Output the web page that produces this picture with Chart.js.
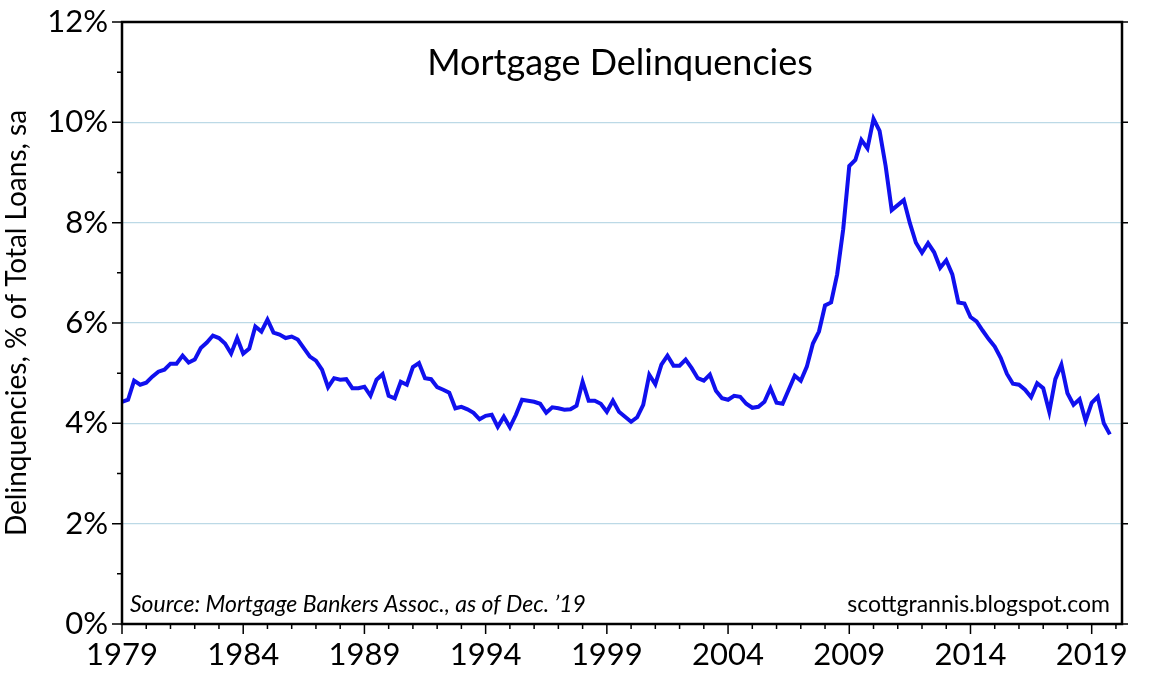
<!DOCTYPE html>
<html>
<head>
<meta charset="utf-8">
<script src="https://cdn.jsdelivr.net/npm/chart.js@4.4.1/dist/chart.umd.min.js"></script>
<style>
  html, body { margin: 0; padding: 0; background: #fff; }
  #wrap { width: 1152px; height: 682px; }
</style>
</head>
<body>
<div id="wrap"><canvas id="delinqChart"></canvas></div>
<script>
// quarterly, 1979 Q1 .. 2019 Q4
const startYear = 1979;
const delinquencies = [
    4.43, 4.47, 4.85, 4.77, 4.81, 4.93, 5.03, 5.07, 5.19, 5.19, 5.35, 5.21, 5.27, 5.50, 5.61, 5.75,
    5.70, 5.59, 5.39, 5.70, 5.39, 5.49, 5.93, 5.83, 6.07, 5.81, 5.77, 5.70, 5.73, 5.67, 5.50, 5.33,
    5.25, 5.07, 4.72, 4.90, 4.87, 4.88, 4.70, 4.70, 4.73, 4.55, 4.87, 4.98, 4.55, 4.50, 4.83, 4.77,
    5.12, 5.20, 4.90, 4.88, 4.72, 4.67, 4.61, 4.30, 4.33, 4.28, 4.21, 4.08, 4.15, 4.17, 3.93, 4.13,
    3.92, 4.17, 4.47, 4.45, 4.43, 4.39, 4.21, 4.32, 4.30, 4.27, 4.28, 4.35, 4.83, 4.45, 4.45, 4.39,
    4.23, 4.45, 4.23, 4.13, 4.03, 4.12, 4.37, 4.97, 4.78, 5.17, 5.35, 5.15, 5.15, 5.27, 5.10, 4.90,
    4.85, 4.97, 4.65, 4.50, 4.47, 4.55, 4.53, 4.39, 4.31, 4.33, 4.43, 4.70, 4.41, 4.39, 4.67, 4.95,
    4.85, 5.13, 5.59, 5.83, 6.35, 6.41, 6.97, 7.87, 9.13, 9.25, 9.65, 9.48, 10.07, 9.83, 9.13, 8.25,
    8.35, 8.45, 7.99, 7.60, 7.40, 7.59, 7.41, 7.10, 7.25, 6.97, 6.41, 6.39, 6.12, 6.03, 5.85, 5.68,
    5.53, 5.30, 4.99, 4.79, 4.77, 4.67, 4.52, 4.80, 4.70, 4.23, 4.88, 5.17, 4.60, 4.37, 4.48, 4.05,
    4.41, 4.53, 4.00, 3.78
];
const yearTicks = [1979, 1984, 1989, 1994, 1999, 2004, 2009, 2014, 2019];
const percentTicks = [0, 2, 4, 6, 8, 10, 12];

const points = delinquencies.map(function (v, i) { return { x: startYear + i / 4, y: v }; });
const font = 'Lato, "DejaVu Sans", sans-serif';

// ticks, frame and the texts inside the plot
const decorations = {
    id: 'decorations',
    afterDraw: function (chart) {
        const ctx = chart.ctx;
        const a = chart.chartArea;
        const xs = chart.scales.x;
        const ys = chart.scales.y;
        ctx.save();
        ctx.strokeStyle = '#000';
        ctx.lineWidth = 1.5;
        ctx.beginPath();
        for (let yr = 1979; yr <= 2020; yr++) {
            const px = xs.getPixelForValue(yr);
            const len = yearTicks.indexOf(yr) >= 0 ? 10 : 5;
            ctx.moveTo(px, a.bottom); ctx.lineTo(px, a.bottom + len);
        }
        for (let p = 0; p <= 12; p++) {
            const py = ys.getPixelForValue(p);
            const len = p % 2 === 0 ? 10 : 5;
            ctx.moveTo(a.left, py); ctx.lineTo(a.left - len, py);
            if (p % 2 === 0) { ctx.moveTo(a.right, py); ctx.lineTo(a.right + 6, py); }
        }
        ctx.stroke();
        ctx.lineWidth = 2.5;
        ctx.strokeRect(a.left, a.top, a.right - a.left, a.bottom - a.top);

        ctx.fillStyle = '#000';
        ctx.textBaseline = 'middle';
        ctx.textAlign = 'center';
        ctx.font = '36px ' + font;
        ctx.fillText('Mortgage Delinquencies', 620, 63);
        ctx.textAlign = 'left';
        ctx.font = 'italic 23px ' + font;
        ctx.fillText('Source: Mortgage Bankers Assoc., as of Dec. \u201919', 130, 605);
        ctx.textAlign = 'right';
        ctx.font = '23px ' + font;
        ctx.fillText('scottgrannis.blogspot.com', 1110, 605);
        ctx.restore();
    }
};

const ctx = document.getElementById('delinqChart').getContext('2d');
const delinqChart = new Chart(ctx, {
    type: 'line',
    data: {
        datasets: [{
            label: 'Delinquencies',
            data: points,
            borderColor: '#1010ee',
            borderWidth: 4,
            pointRadius: 0,
            tension: 0,
            fill: false
        }]
    },
    options: {
        responsive: true,
        maintainAspectRatio: false,
        animation: false,
        layout: { padding: { top: 22, right: 30, left: 0, bottom: 0 } },
        plugins: { legend: { display: false }, tooltip: { enabled: false } },
        scales: {
            x: {
                type: 'linear',
                min: 1979,
                max: 2020.25,
                afterBuildTicks: function (scale) {
                    scale.ticks = yearTicks.map(function (v) { return { value: v }; });
                },
                afterFit: function (scale) { scale.height = 58; scale.paddingLeft = 0; scale.paddingRight = 0; },
                ticks: {
                    color: '#000',
                    font: { family: font, size: 31 },
                    padding: 12,
                    maxRotation: 0,
                    autoSkip: false,
                    callback: function (v) { return String(v); }
                },
                grid: { display: false, drawTicks: false },
                border: { display: false }
            },
            y: {
                min: 0,
                max: 12,
                afterBuildTicks: function (scale) {
                    scale.ticks = percentTicks.map(function (v) { return { value: v }; });
                },
                afterFit: function (scale) { scale.width = 122; scale.paddingTop = 0; scale.paddingBottom = 0; },
                ticks: {
                    color: '#000',
                    font: { family: font, size: 31 },
                    padding: 14,
                    callback: function (v) { return v + '%'; }
                },
                title: {
                    display: true,
                    text: 'Delinquencies, % of Total Loans, sa',
                    color: '#000',
                    font: { family: font, size: 28 },
                    padding: { top: 0, bottom: 4 }
                },
                grid: {
                    drawTicks: false,
                    color: function (c) { return (c.tick.value > 0 && c.tick.value < 12) ? '#bcd9e6' : 'rgba(0,0,0,0)'; },
                    lineWidth: 1.2
                },
                border: { display: false }
            }
        }
    },
    plugins: [decorations]
});
</script>
</body>
</html>
